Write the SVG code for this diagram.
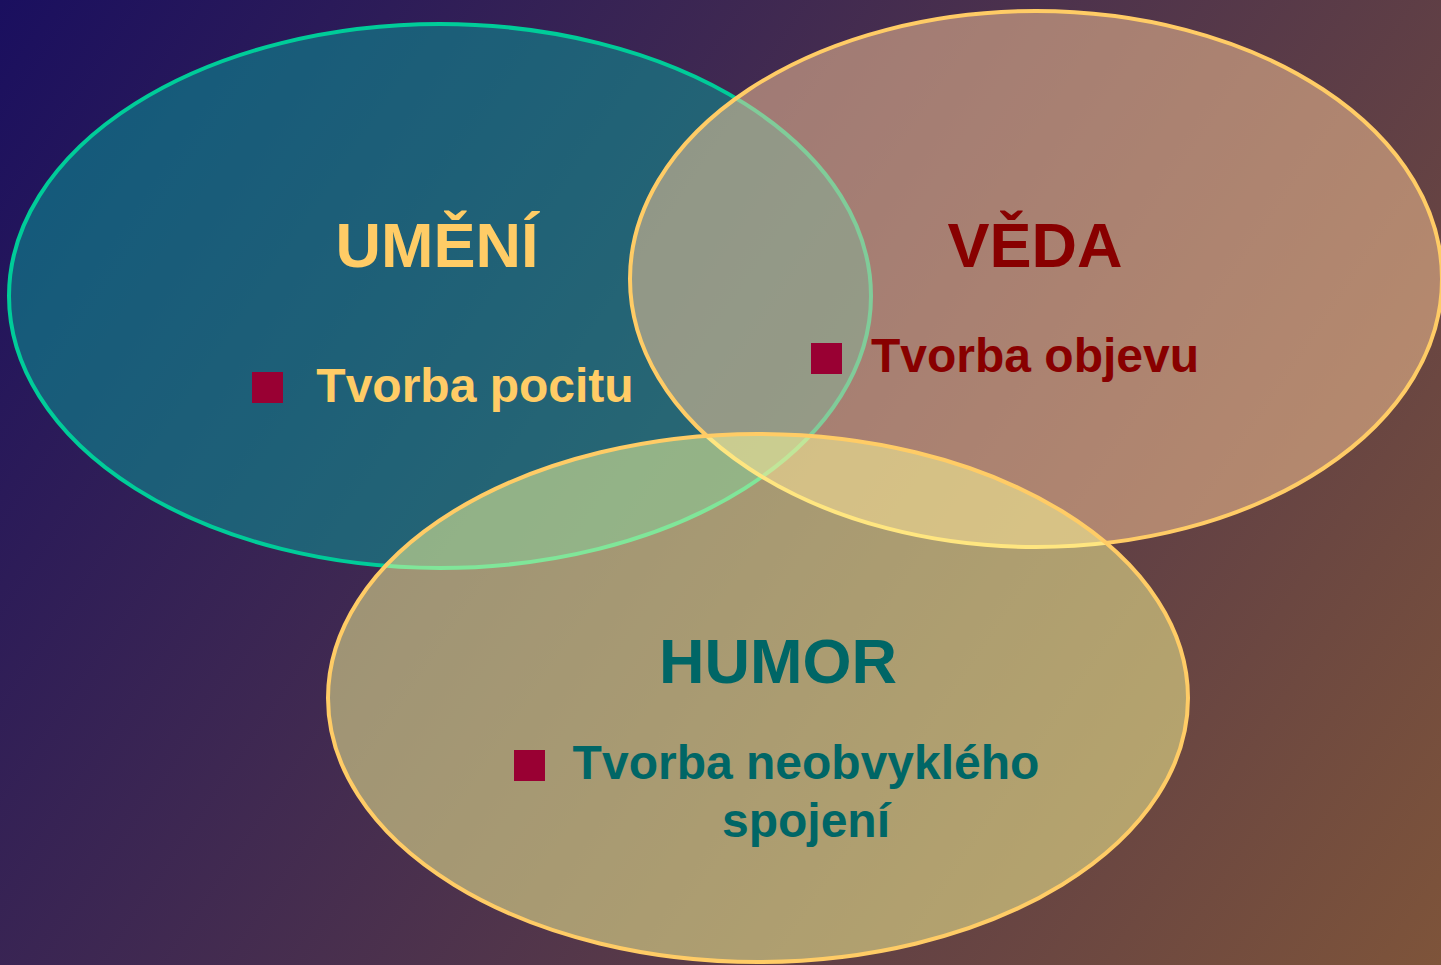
<svg xmlns="http://www.w3.org/2000/svg" width="1441" height="965" viewBox="0 0 1441 965">
<defs>
<linearGradient id="bg" gradientUnits="userSpaceOnUse" x1="0" y1="0" x2="1441" y2="965">
<stop offset="0" stop-color="#1a0f5f"/>
<stop offset="1" stop-color="#7e543a"/>
</linearGradient>
<style>
.t{font-family:"Liberation Sans",Arial,sans-serif;font-weight:bold;text-anchor:middle}
.h{font-size:63px}
.b{font-size:48px}
.sq{fill:#990033}
.e{stroke-width:4}
</style>
</defs>
<rect x="0" y="0" width="1441" height="965" fill="url(#bg)"/>
<g id="umeni">
<ellipse class="e" cx="440" cy="296" rx="431" ry="272" fill="#0a9a98" fill-opacity="0.52" stroke="#00cc99"/>
</g>
<g id="veda">
<ellipse class="e" cx="1036" cy="279" rx="406" ry="268" fill="#ffcc99" fill-opacity="0.5" stroke="#ffcc66"/>
</g>
<g id="humor">
<ellipse class="e" cx="758" cy="698" rx="430" ry="264" fill="#ffff99" fill-opacity="0.5" stroke="#ffcc66"/>
</g>
<g id="umeni-text">
<text class="t h" x="437" y="267" fill="#ffcc66">UMĚNÍ</text>
<rect class="sq" x="252" y="372" width="31" height="31"/>
<text class="t b" x="475" y="402" fill="#ffcc66">Tvorba pocitu</text>
</g>
<g id="veda-text">
<text class="t h" x="1035" y="267" fill="#880000">VĚDA</text>
<rect class="sq" x="811" y="343" width="31" height="31"/>
<text class="t b" x="1035" y="372" fill="#880000">Tvorba objevu</text>
</g>
<g id="humor-text">
<text class="t h" x="778" y="683" fill="#006666">HUMOR</text>
<rect class="sq" x="514" y="750" width="31" height="31"/>
<text class="t b" x="806" y="779" fill="#006666">Tvorba neobvyklého</text>
<text class="t b" x="806" y="837" fill="#006666">spojení</text>
</g>
</svg>
